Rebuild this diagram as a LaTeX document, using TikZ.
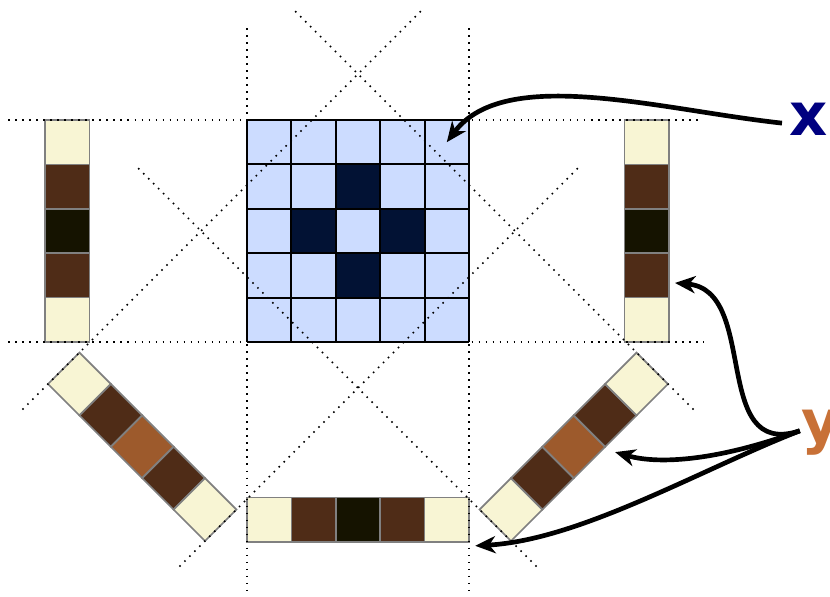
\documentclass[tikz,border=0pt]{standalone}
\usepackage{fontspec}
\usepackage{tikz}
\usetikzlibrary{arrows.meta}
\setsansfont{DejaVu Sans}
\definecolor{pixlight}{HTML}{CCDCFF}
\definecolor{pixdark}{HTML}{021234}
\definecolor{projzero}{HTML}{F8F5D4}
\definecolor{projone}{HTML}{4F2C17}
\definecolor{projtwo}{HTML}{151300}
\definecolor{projmid}{HTML}{9D5A2C}
\definecolor{xcol}{HTML}{000080}
\definecolor{ycol}{HTML}{C87137}
\tikzset{
  stripcell/.style={draw=black!50,line width=1.1pt},
  guide/.style={line width=1pt,dash pattern=on 1pt off 3.5pt},
  pointer/.style={line width=3pt,-{Stealth[length=13pt,width=11pt,inset=4pt]}},
  bigletter/.style={font=\sffamily\bfseries\fontsize{38}{40}\selectfont,anchor=base,inner sep=0pt}
}
% one projection: five cells in a row, centred at the origin
\newcommand{\projstrip}[5]{%
  \filldraw[stripcell,fill=#1] (-2.5,-0.5) rectangle (-1.5,0.5);
  \filldraw[stripcell,fill=#2] (-1.5,-0.5) rectangle (-0.5,0.5);
  \filldraw[stripcell,fill=#3] (-0.5,-0.5) rectangle (0.5,0.5);
  \filldraw[stripcell,fill=#4] (0.5,-0.5) rectangle (1.5,0.5);
  \filldraw[stripcell,fill=#5] (1.5,-0.5) rectangle (2.5,0.5);
}

\begin{document}
\begin{tikzpicture}[x=1cm,y=1cm,>=Stealth]
    \useasboundingbox (-8.063,-8.243) rectangle (10.631,5.203);
    % image x
    \fill[pixlight] (-2.5,-2.5) rectangle (2.5,2.5);
    \fill[pixdark] (-0.5,0.5) rectangle (0.5,1.5);
    \fill[pixdark] (-1.5,-0.5) rectangle (-0.5,0.5);
    \fill[pixdark] (0.5,-0.5) rectangle (1.5,0.5);
    \fill[pixdark] (-0.5,-1.5) rectangle (0.5,-0.5);
    \draw[line width=1.2pt,shift={(0.5,0.5)}] (-3,-3) grid (2,2);
    % projections y
    \begin{scope}[shift={(-6.55,0)},rotate=90]
      \projstrip{projzero}{projone}{projtwo}{projone}{projzero}
    \end{scope}
    \begin{scope}[shift={(6.5,0)},rotate=90]
      \projstrip{projzero}{projone}{projtwo}{projone}{projzero}
    \end{scope}
    \begin{scope}[shift={(0,-6.5)}]
      \projstrip{projzero}{projone}{projtwo}{projone}{projzero}
    \end{scope}
    \begin{scope}[shift={(-4.86,-4.86)},rotate=-45]
      \projstrip{projzero}{projone}{projmid}{projone}{projzero}
    \end{scope}
    \begin{scope}[shift={(4.86,-4.86)},rotate=45]
      \projstrip{projzero}{projone}{projmid}{projone}{projzero}
    \end{scope}
    % guide lines
    \draw[guide] (-7.88,2.5) -- (7.7,2.5);
    \draw[guide] (-7.88,-2.5) -- (7.8,-2.5);
    \draw[guide] (-2.5,4.57) -- (-2.5,-8.09);
    \draw[guide] (2.5,4.57) -- (2.5,-8.09);
    \begin{scope}[rotate=45]
      \draw[guide] (2.5,4.5) -- (2.5,-8.25);
      \draw[guide] (-2.5,4.5) -- (-2.5,-8.25);
      \draw[guide] (4.5,2.5) -- (-8.25,2.5);
      \draw[guide] (4.5,-2.5) -- (-8.25,-2.5);
    \end{scope}
    % labels
    \node[bigletter,text=xcol] (xlab) at (10.14,2.16) {x};
    \node[bigletter,text=ycol] (ylab) at (10.43,-4.77) {y};
    \coordinate (xfrom) at (9.55,2.43);
    \coordinate (yfrom) at (9.95,-4.5);
    \coordinate (xto) at (2.0,2.0);
    \coordinate (yto1) at (7.14,-1.17);
    \coordinate (yto2) at (5.79,-4.98);
    \coordinate (yto3) at (2.64,-7.09);
    \draw[pointer] (xfrom) .. controls (6.8,2.73) and (3.31,3.74) .. (xto);
    \draw[pointer] (yfrom) .. controls (7.93,-5.16) and (9.05,-1.33) .. (yto1);
    \draw[pointer] (yfrom) .. controls (8.15,-5.16) and (6.8,-5.27) .. (yto2);
    \draw[pointer] (yfrom) .. controls (7.7,-5.38) and (5.0,-6.96) .. (yto3);
  \end{tikzpicture}
\end{document}
